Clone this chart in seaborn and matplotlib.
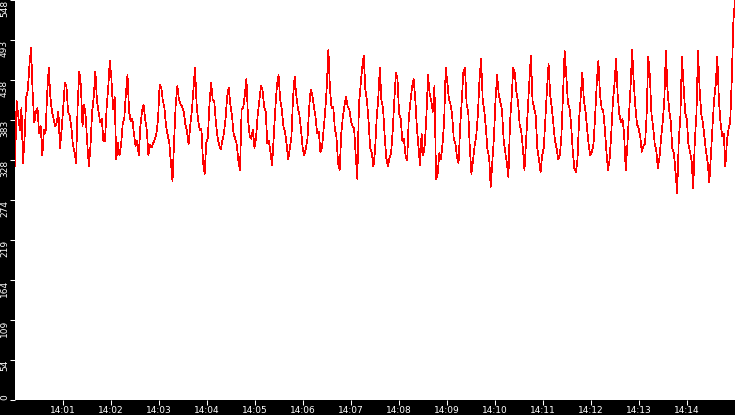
import numpy as np
import pandas as pd
import matplotlib
matplotlib.use("Agg")
import matplotlib.pyplot as plt
import seaborn as sns

# --- data (one value every ~2 s, 14:00 -> 14:15) ---
seg1 = [320, 410, 390, 370, 400, 325, 360, 415, 425, 460, 482, 420, 380, 395, 400, 365, 375, 335, 370, 365,
        420, 455, 415, 395, 385, 375, 380, 395, 345, 370, 400, 435, 430, 395, 390, 375, 350, 340, 325, 405,
        450, 430, 375, 405, 388, 350, 320, 350, 395, 415, 450, 410, 395, 380, 385, 355]
seg2 = [355, 400, 428, 465, 440, 398, 415, 330, 352, 335, 350, 378, 386, 420, 445, 395, 382, 385, 365, 348,
        355, 335, 375, 395, 405, 385, 370, 335, 350, 346, 352, 357, 365, 385, 432, 428, 410, 400, 375, 363,
        352, 325, 300, 355, 405, 430, 412, 405, 402, 395, 378, 368, 350, 375, 395, 425]
seg3 = [455, 405, 382, 370, 372, 325, 310, 352, 360, 405, 435, 412, 408, 380, 360, 350, 343, 355, 365, 385,
        415, 428, 405, 390, 365, 358, 350, 328, 315, 398, 400, 418, 440, 385, 362, 358, 370, 345, 360, 390,
        410, 430, 425, 402, 395, 352, 355, 338, 322, 360, 400, 432, 445, 412, 398, 375]
seg4 = [368, 350, 330, 345, 360, 415, 443, 418, 400, 390, 370, 345, 335, 345, 358, 400, 425, 418, 402, 388,
        365, 368, 340, 345, 370, 395, 430, 480, 425, 400, 402, 372, 360, 325, 315, 365, 388, 403, 415, 402,
        398, 383, 375, 372, 335, 303, 405, 430, 455, 472, 425, 410, 382, 345, 338, 320]
seg5 = [340, 385, 412, 455, 410, 400, 362, 332, 320, 332, 338, 368, 410, 448, 440, 392, 385, 355, 358, 335,
        328, 385, 408, 428, 440, 415, 375, 348, 322, 365, 335, 350, 390, 445, 420, 410, 395, 430, 302, 310,
        338, 330, 350, 380, 455, 435, 412, 405, 390, 358, 352, 333, 325, 375, 410, 450]
seg6 = [455, 405, 395, 345, 310, 328, 348, 362, 390, 438, 468, 412, 396, 372, 342, 333, 292, 325, 360, 412,
        445, 418, 408, 398, 358, 340, 325, 305, 380, 413, 455, 448, 422, 408, 378, 368, 345, 315, 355, 395,
        435, 472, 410, 400, 390, 345, 330, 312, 335, 345, 385, 425, 460, 418, 400, 378]
seg7 = [355, 345, 330, 335, 362, 420, 478, 445, 408, 400, 378, 343, 318, 312, 330, 385, 415, 448, 410, 395,
        372, 348, 335, 340, 352, 390, 435, 465, 418, 400, 396, 372, 340, 315, 330, 365, 408, 432, 468, 418,
        392, 380, 385, 365, 315, 348, 390, 428, 480, 435, 402, 378, 372, 362, 340, 348]
seg8 = [350, 390, 470, 445, 392, 375, 352, 342, 318, 332, 358, 380, 410, 478, 425, 398, 382, 345, 338, 312,
        283, 355, 388, 470, 432, 393, 385, 350, 340, 328, 290, 355, 392, 478, 425, 392, 380, 360, 340, 325,
        298, 335, 375, 412, 432, 470, 410, 380, 362, 365, 320, 355, 372, 380, 440, 520, 548]

y_max = 548
y_tick_labels = ["0", "54", "109", "164", "219", "274", "328", "383", "438", "493", "548"]
x_tick_labels = ["14:01", "14:02", "14:03", "14:04", "14:05", "14:06", "14:07",
                 "14:08", "14:09", "14:10", "14:11", "14:12", "14:13", "14:14"]
start_time = "2024-01-01 14:00:00"
end_time = "2024-01-01 14:15:00"

values = seg1 + seg2 + seg3 + seg4 + seg5 + seg6 + seg7 + seg8
t0 = pd.Timestamp(start_time)
t1 = pd.Timestamp(end_time)
times = pd.date_range(t0, t1, periods=len(values))
df = pd.DataFrame({"time": times, "value": values})

plt.rcParams["font.family"] = ["DejaVu Sans"]

W, H = 735, 415
fig = plt.figure(figsize=(W / 100, H / 100), dpi=100, facecolor="black")
ax = fig.add_axes([15 / W, 15 / H, 720 / W, 400 / H])
ax.set_facecolor("white")

sns.lineplot(data=df, x="time", y="value", ax=ax, color="#ff0000",
             linewidth=0.5, estimator=None, antialiased=False)

ax.set_xlim(t0, t1)
ax.set_ylim(0, y_max)
ax.set_xlabel("")
ax.set_ylabel("")
for sp in ax.spines.values():
    sp.set_visible(False)

x_ticks = [t0 + pd.Timedelta(minutes=i + 1) for i in range(len(x_tick_labels))]
ax.set_xticks(x_ticks)
ax.set_xticklabels(x_tick_labels)

y_ticks = [y_max * i / (len(y_tick_labels) - 1) for i in range(len(y_tick_labels))]
ax.set_yticks(y_ticks)
ax.set_yticklabels(y_tick_labels, rotation=90)
for i, lab in enumerate(ax.get_yticklabels()):
    lab.set_va("bottom" if i == 0 else "top")
    lab.set_ha("right")

ax.tick_params(axis="both", colors="white", length=3.6, width=0.75,
               direction="out", labelsize=6.5, pad=0.8)
ax.grid(False)

fig.savefig("out.png", dpi=100, facecolor="black")
